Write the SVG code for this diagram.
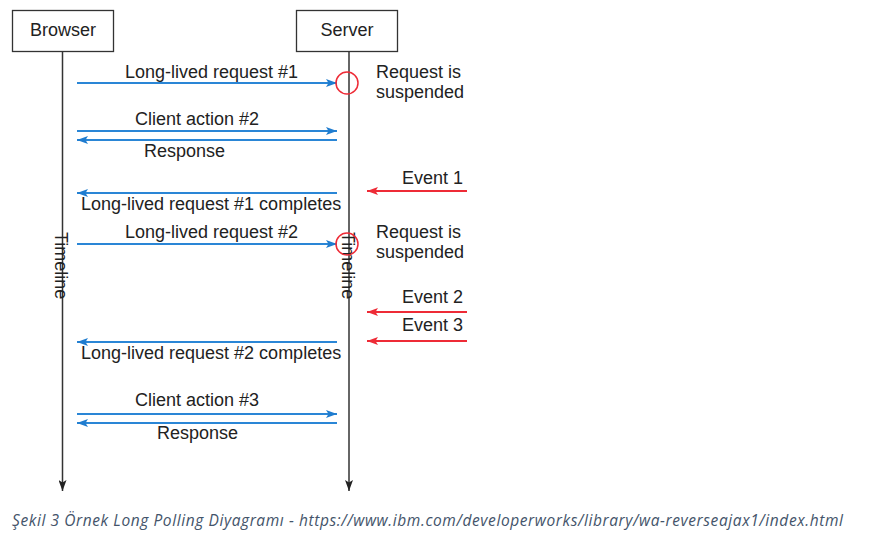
<svg xmlns="http://www.w3.org/2000/svg" width="877" height="536" viewBox="0 0 877 536">
<style>
.lbl{font-family:"Liberation Sans",Arial,sans-serif;font-size:18px;fill:#222}
.box{fill:#fff;stroke:#333;stroke-width:1.3}
.life{stroke:#333;stroke-width:1.5;fill:none}
.msg{stroke:#2a86d6;stroke-width:1.8;fill:none}
.ev{stroke:#ee2b36;stroke-width:1.8;fill:none}
.susp{stroke:#ee2b36;stroke-width:1.5;fill:none}
.cap{font-family:"Open Sans","Liberation Sans",sans-serif;font-style:italic;font-size:15.5px;fill:#44546a}
</style>
<defs>
<marker id="ab" markerWidth="12" markerHeight="8" refX="11" refY="4" orient="auto" markerUnits="userSpaceOnUse"><path d="M0,0 L11,4 L0,8 L2.5,4 Z" fill="#1f7ccf"/></marker>
<marker id="ar" markerWidth="12" markerHeight="8" refX="11" refY="4" orient="auto" markerUnits="userSpaceOnUse"><path d="M0,0 L11,4 L0,8 L2.5,4 Z" fill="#ee2b36"/></marker>
<marker id="ak" markerWidth="12" markerHeight="8" refX="11" refY="4" orient="auto" markerUnits="userSpaceOnUse"><path d="M0,0 L11,4 L0,8 L2.5,4 Z" fill="#222"/></marker>
</defs>
<rect width="877" height="536" fill="#fff"/>
<g id="browser">
<line class="life" x1="62.5" y1="52" x2="62.5" y2="491" marker-end="url(#ak)"/>
<rect class="box" x="12.5" y="10.5" width="101" height="41"/>
<text class="lbl" x="63" y="36" text-anchor="middle">Browser</text>
<text class="lbl" transform="translate(55,232) rotate(90)" x="0" y="0">Timeline</text>
</g>
<g id="server">
<line class="life" x1="349" y1="52" x2="349" y2="491" marker-end="url(#ak)"/>
<rect class="box" x="296.5" y="10.5" width="101" height="41"/>
<text class="lbl" x="347" y="36" text-anchor="middle">Server</text>
<text class="lbl" transform="translate(341.5,232) rotate(90)" x="0" y="0">Timeline</text>
</g>
<g id="connectors">
<line class="msg" x1="77" y1="83" x2="337" y2="83" marker-end="url(#ab)"/>
<line class="msg" x1="77" y1="131" x2="337" y2="131" marker-end="url(#ab)"/>
<line class="msg" x1="337" y1="140" x2="77" y2="140" marker-end="url(#ab)"/>
<line class="msg" x1="337" y1="193" x2="77" y2="193" marker-end="url(#ab)"/>
<line class="msg" x1="77" y1="244" x2="337" y2="244" marker-end="url(#ab)"/>
<line class="msg" x1="337" y1="342" x2="77" y2="342" marker-end="url(#ab)"/>
<line class="msg" x1="77" y1="414" x2="337" y2="414" marker-end="url(#ab)"/>
<line class="msg" x1="337" y1="423" x2="77" y2="423" marker-end="url(#ab)"/>
<line class="ev" x1="467" y1="191" x2="367" y2="191" marker-end="url(#ar)"/>
<line class="ev" x1="467" y1="312" x2="367" y2="312" marker-end="url(#ar)"/>
<line class="ev" x1="467" y1="341" x2="367" y2="341" marker-end="url(#ar)"/>
</g>
<g id="labels">
<text class="lbl" x="125" y="78">Long-lived request #1</text>
<text class="lbl" x="135" y="125">Client action #2</text>
<text class="lbl" x="144" y="157">Response</text>
<text class="lbl" x="81" y="210">Long-lived request #1 completes</text>
<text class="lbl" x="125" y="238">Long-lived request #2</text>
<text class="lbl" x="81" y="359">Long-lived request #2 completes</text>
<text class="lbl" x="135" y="406">Client action #3</text>
<text class="lbl" x="157" y="439">Response</text>
</g>
<g id="suspend1">
<circle class="susp" cx="347" cy="83" r="11"/>
<text class="lbl" x="376" y="78">Request is</text>
<text class="lbl" x="376" y="98">suspended</text>
</g>
<g id="suspend2">
<circle class="susp" cx="347" cy="244" r="11"/>
<text class="lbl" x="376" y="238">Request is</text>
<text class="lbl" x="376" y="258">suspended</text>
</g>
<g id="events">
<text class="lbl" x="463" y="184" text-anchor="end">Event 1</text>
<text class="lbl" x="463" y="303" text-anchor="end">Event 2</text>
<text class="lbl" x="463" y="331" text-anchor="end">Event 3</text>
</g>
<text class="cap" x="12" y="526" textLength="831" lengthAdjust="spacing">Şekil 3 Örnek Long Polling Diyagramı - https://www.ibm.com/developerworks/library/wa-reverseajax1/index.html</text>
</svg>
